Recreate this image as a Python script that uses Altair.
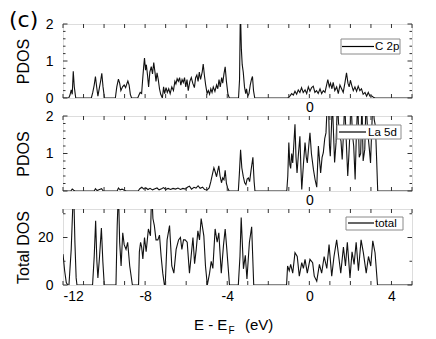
import altair as alt
import pandas as pd

# ---------------- data ----------------
c2p_e = [-12.0, -11.72, -11.66, -11.6, -11.55, -11.5, -11.45, -11.38,
         -10.62, -10.55, -10.48, -10.42, -10.36, -10.3, -10.22, -10.17, -10.11, -10.05, -9.98,
         -9.45, -9.38, -9.3, -9.24, -9.18, -9.1, -9.02, -8.95, -8.88, -8.84, -8.78, -8.72, -8.66,
         -8.36, -8.3, -8.24, -8.17, -8.12, -8.07, -8.03, -7.98, -7.94, -7.88, -7.83, -7.77, -7.7,
         -7.64, -7.58, -7.52, -7.47, -7.42, -7.36, -7.3, -7.24, -7.16, -7.1, -7.05, -6.98, -6.92,
         -6.85, -6.78, -6.7, -6.62, -6.55, -6.5, -6.44, -6.38, -6.32, -6.26, -6.2, -6.14, -6.08,
         -6.02, -5.96, -5.9, -5.82, -5.75, -5.68, -5.6, -5.54, -5.48, -5.42, -5.36, -5.3, -5.22,
         -5.17, -5.11, -5.05, -4.98, -4.92, -4.86, -4.8, -4.74, -4.68, -4.6, -4.52, -4.46, -4.4,
         -4.34, -4.27, -4.22, -4.16, -4.1, -4.04, -3.97, -3.9,
         -3.45, -3.4, -3.36, -3.31, -3.27, -3.22, -3.16, -3.1, -3.06, -3.0, -2.94, -2.88, -2.82,
         -2.77, -2.72, -2.66,
         -1.05, -0.95, -0.86, -0.78, -0.7, -0.62, -0.54, -0.46, -0.38, -0.3, -0.21, -0.13, -0.05,
         0.03, 0.11, 0.19, 0.27, 0.35, 0.43, 0.52, 0.6, 0.68, 0.76, 0.84, 0.9, 0.97, 1.03, 1.1,
         1.16, 1.24, 1.33, 1.41, 1.49, 1.57, 1.65, 1.73, 1.81, 1.88, 1.94, 2.0, 2.06, 2.14, 2.22,
         2.3, 2.38, 2.46, 2.54, 2.62, 2.71, 2.79, 2.87, 2.95, 3.03, 3.12, 3.2, 5.0]
c2p_v = [0, 0, 0.08, 0.22, 0.1, 0.72, 0.3, 0,
         0, 0.15, 0.35, 0.58, 0.3, 0.05, 0.3, 0.45, 0.67, 0.3, 0,
         0, 0.3, 0.51, 0.4, 0.2, 0.3, 0.35, 0.28, 0.4, 0.46, 0.35, 0.1, 0,
         0, 0.08, 0.15, 0.12, 0.5, 0.85, 1.08, 0.75, 0.9, 0.6, 0.3, 0.7, 0.85,
         0.65, 0.96, 0.7, 0.45, 0.68, 0.5, 0.25, 0.1, 0.0, 0.3, 0.12, 0.28, 0.15,
         0.25, 0.12, 0.3, 0.2, 0.45, 0.38, 0.52, 0.45, 0.55, 0.35, 0.5, 0.42, 0.55,
         0.3, 0.5, 0.2, 0.45, 0.55, 0.4, 0.28, 0.55, 0.62, 0.45, 0.7, 0.5, 0.7,
         0.92, 0.6, 0.35, 0.12, 0.2, 0.1, 0.25, 0.15, 0.3, 0.18, 0.35, 0.25, 0.5,
         0.3, 0.55, 0.4, 0.65, 0.84, 0.45, 0.12, 0,
         0, 0.5, 2.4, 1.3, 0.9, 0.7, 0.3, 0.12, 0.25, 0.05, 0.12, 0.35, 0.5,
         0.58, 0.2, 0,
         0, 0.05, 0.12, 0.08, 0.18, 0.1, 0.22, 0.15, 0.28, 0.15, 0.22, 0.12, 0.3,
         0.18, 0.28, 0.32, 0.15, 0.2, 0.12, 0.25, 0.12, 0.2, 0.15, 0.35, 0.5, 0.3, 0.4, 0.25,
         0.42, 0.2, 0.3, 0.12, 0.35, 0.25, 0.15, 0.4, 0.68, 0.4, 0.3, 0.48, 0.35, 0.2, 0.3,
         0.18, 0.32, 0.2, 0.25, 0.1, 0.15, 0.05, 0.15, 0.05, 0.06, 0.02, 0, 0]

la5d_e = [-12.0, -11.62, -11.55, -11.48, -11.42,
          -10.48, -10.42, -10.34, -10.22, -10.12, -10.04,
          -9.36, -9.3, -9.22, -9.12, -9.02, -8.92,
          -8.34, -8.26, -8.16, -8.06, -7.96, -7.86, -7.76, -7.64, -7.52, -7.42, -7.32, -7.2, -7.1,
          -7.0, -6.88, -6.76, -6.64, -6.52, -6.4, -6.28, -6.16, -6.04, -5.94, -5.84, -5.74, -5.62,
          -5.52, -5.42, -5.32, -5.2, -5.1, -4.98, -4.88, -4.8, -4.72, -4.65, -4.58, -4.52, -4.46,
          -4.41, -4.35, -4.28, -4.22, -4.16, -4.1, -4.04, -3.98, -3.91,
          -3.46, -3.41, -3.35, -3.29, -3.22, -3.15, -3.09, -3.03, -2.97, -2.91, -2.84, -2.75, -2.69, -2.65,
          -1.1, -1.05, -1.0, -0.95, -0.91, -0.86, -0.81, -0.75, -0.7, -0.65, -0.6, -0.53, -0.46,
          -0.41, -0.37, -0.29, -0.21, -0.15, -0.1, -0.03, 0.03, 0.1, 0.2, 0.28, 0.36, 0.44, 0.5,
          0.55, 0.62, 0.68, 0.75, 0.81, 0.87, 0.93, 0.98, 1.02, 1.07, 1.12, 1.18, 1.23, 1.3, 1.37,
          1.45, 1.54, 1.6, 1.67, 1.72, 1.8, 1.87, 1.92, 1.98, 2.03, 2.1, 2.16, 2.23, 2.29, 2.36,
          2.43, 2.5, 2.56, 2.62, 2.7, 2.76, 2.84, 2.93, 2.98, 3.03, 3.09, 3.16, 3.22, 3.28, 3.33, 5.0]
la5d_v = [0, 0, 0.05, 0.02, 0,
          0, 0.06, 0.01, 0.04, 0.06, 0,
          0, 0.08, 0.03, 0.05, 0.02, 0,
          0, 0.06, 0.1, 0.05, 0.08, 0.04, 0.07, 0.03, 0.06, 0.08, 0.03, 0.06, 0.09,
          0.04, 0.07, 0.04, 0.07, 0.05, 0.08, 0.04, 0.07, 0.05, 0.1, 0.13, 0.05, 0.1,
          0.08, 0.14, 0.07, 0.1, 0.04, 0.03, 0.08, 0.25, 0.45, 0.62, 0.5, 0.38, 0.55,
          0.67, 0.4, 0.22, 0.35, 0.3, 0.55, 0.2, 0.08, 0,
          0, 0.45, 1.1, 0.62, 0.39, 0.22, 0.17, 0.32, 0.35, 0.25, 0.55, 0.9, 0.25, 0,
          0, 0.4, 1.29, 0.7, 0.6, 1.0, 0.75, 1.3, 1.78, 0.9, 0.48, 1.0, 1.46,
          0.6, 0.04, 0.7, 1.29, 0.9, 0.75, 1.2, 1.55, 1.0, 0.57, 0.3, 0.1, 1.2, 0.8,
          0.48, 0.9, 1.02, 1.4, 1.55, 2.3, 2.4, 1.2, 0.93, 1.6, 2.4, 1.5, 0.76, 1.29, 2.4,
          1.5, 1.34, 0.84, 1.6, 2.4, 1.3, 0.4, 0.9, 1.6, 2.4, 1.5, 1.2, 0.31, 1.5, 2.4,
          0.9, 1.0, 2.4, 0.8, 1.11, 2.4, 1.6, 1.07, 0.75, 1.5, 2.4, 1.9, 1.73, 0.8, 0, 0]

total_e = [-12.0, -11.92, -11.84, -11.77, -11.71, -11.6, -11.52, -11.48, -11.42, -11.36, -11.32,
           -10.56, -10.48, -10.41, -10.35, -10.3, -10.22, -10.13, -10.06, -9.99,
           -9.42, -9.36, -9.3, -9.24, -9.17, -9.09, -9.02, -8.93, -8.85, -8.75, -8.62,
           -8.32, -8.28, -8.22, -8.17, -8.11, -8.03, -7.95, -7.84, -7.74, -7.68, -7.62, -7.55,
           -7.47, -7.38, -7.3, -7.22, -7.14, -7.06, -7.02, -6.93, -6.81, -6.7, -6.6, -6.49,
           -6.37, -6.28, -6.21, -6.13, -6.05, -5.95, -5.84, -5.76, -5.67, -5.59, -5.51, -5.43,
           -5.35, -5.27, -5.14, -5.06, -4.97, -4.86, -4.78, -4.7, -4.59, -4.49, -4.41, -4.29,
           -4.18, -4.1, -4.02, -3.89,
           -3.46, -3.38, -3.32, -3.21, -3.12, -3.04, -2.92, -2.81, -2.71,
           -1.11, -1.06, -0.98, -0.91, -0.81, -0.7, -0.59, -0.49, -0.37, -0.29, -0.21, -0.1,
           0.03, 0.16, 0.24, 0.36, 0.49, 0.6, 0.72, 0.85, 0.96, 1.09, 1.2, 1.33, 1.43, 1.53,
           1.66, 1.76, 1.85, 1.98, 2.08, 2.18, 2.28, 2.39, 2.52, 2.63, 2.77, 2.88, 2.99, 3.09,
           3.2, 3.32, 5.0]
total_v = [13, 6, 1, 0, 0, 15, 34, 40, 18, 3, 0,
           0, 12, 27, 10, 3, 12, 24, 10, 0,
           0, 25, 40, 18, 8, 22, 17, 15, 18, 8, 0,
           0, 14, 18, 16, 11, 20, 14, 23.6, 20.7, 40, 28, 25,
           19, 19, 21, 12, 5, 0, 0, 19, 25, 8, 5, 15,
           19, 20, 15, 19, 19, 18, 5, 12, 20, 9, 15, 22.8,
           19, 28, 20.7, 8, 0, 5, 10, 7, 23.6, 18, 22, 5,
           17, 23.6, 15, 0,
           0, 12, 28.4, 6.8, 12.5, 2.5, 18, 24.5, 0,
           0, 8, 6, 8.7, 5, 13.6, 12, 3.7, 9.4, 7, 10.8, 5,
           10.8, 9.4, 3.7, 1.6, 8.7, 5, 12, 7, 17, 3.7, 12, 19, 12, 5,
           16, 8, 18, 3, 14, 8.7, 18, 6, 19, 13.6, 5, 12, 8, 18.6,
           13.6, 0, 0]

x_ticks = [-12, -11, -10, -9, -8, -7, -6, -5, -4, -3, -2, -1, 0, 1, 2, 3, 4, 5]
x_labels_bottom = [-12, -8, -4, 0, 4]
x_labels_upper = [0]
pdos_major = [0, 1, 2]
pdos_minor = [0.2, 0.4, 0.6, 0.8, 1.2, 1.4, 1.6, 1.8]
total_major = [0, 20]
total_minor = [10, 30]
total_labels = [0, 20]

# ---------------- styling ----------------
W = 349
FONT = "Liberation Sans"
TICK = "#333333"
LINE = "#111111"
FRAME = "#808080"
XDOM = [-12, 5]


def panel(e, v, ymax, h, ytitle, ylabels, ymaj, ymin, xlabels, xpad, leg_label, box, seg, tx, ty):
    xs = alt.Scale(domain=XDOM, nice=False, zero=False)
    ys = alt.Scale(domain=[0, ymax], nice=False, zero=True)
    xaxis = alt.Axis(values=xlabels, ticks=False, domain=False, grid=False, title=None,
                     labelPadding=xpad, labelFontSize=14, labelExpr="'' + datum.value",
                     labelFont=FONT, labelColor="#000")
    yaxis = alt.Axis(values=ylabels, ticks=False, domain=False, grid=False, title=ytitle,
                     labelPadding=10, labelFontSize=14, labelExpr="'' + datum.value",
                     labelFont=FONT, labelColor="#000",
                     titleFont=FONT, titleFontSize=16, titleFontWeight="normal", titleColor="#000",
                     titleX=-35, titleY=h / 2, titleBaseline="alphabetic", titleAngle=270)
    df = pd.DataFrame({"E": e, "D": v})
    line = alt.Chart(df).mark_line(color=LINE, strokeWidth=1.1, clip=True).encode(
        x=alt.X("E:Q", scale=xs, axis=xaxis),
        y=alt.Y("D:Q", scale=ys, axis=yaxis),
    )
    tdf = pd.DataFrame({"E": x_ticks})
    xt_bot = alt.Chart(tdf).mark_rule(color=TICK, strokeWidth=1).encode(
        x=alt.X("E:Q", scale=xs, axis=xaxis), y=alt.value(h), y2=alt.value(h - 4))
    xt_top = alt.Chart(tdf).mark_rule(color=TICK, strokeWidth=1).encode(
        x=alt.X("E:Q", scale=xs, axis=xaxis), y=alt.value(0), y2=alt.value(4))
    layers = [line, xt_bot, xt_top]
    for vals, ln in ((ymaj, 4.5), (ymin, 2.5)):
        ydf = pd.DataFrame({"D": vals})
        layers.append(alt.Chart(ydf).mark_rule(color=TICK, strokeWidth=1).encode(
            y=alt.Y("D:Q", scale=ys, axis=yaxis), x=alt.value(0), x2=alt.value(ln)))
        layers.append(alt.Chart(ydf).mark_rule(color=TICK, strokeWidth=1).encode(
            y=alt.Y("D:Q", scale=ys, axis=yaxis), x=alt.value(W - ln), x2=alt.value(W)))
    ldf = pd.DataFrame({"label": [leg_label]})
    layers.append(alt.Chart(ldf).mark_rect(fill="white", stroke="#8a8a8a", strokeWidth=1).encode(
        x=alt.value(box[0]), x2=alt.value(box[1]), y=alt.value(box[2]), y2=alt.value(box[3])))
    layers.append(alt.Chart(ldf).mark_rule(color="#000", strokeWidth=1.2).encode(
        x=alt.value(seg[0]), x2=alt.value(seg[1]), y=alt.value(seg[2])))
    layers.append(alt.Chart(ldf).mark_text(align="left", baseline="middle", font=FONT,
                                           fontSize=11.5, color="#000").encode(
        text="label:N", x=alt.value(tx), y=alt.value(ty)))
    return layers


top_layers = panel(c2p_e, c2p_v, 2, 74, "PDOS", pdos_major, pdos_major, pdos_minor,
                   x_labels_upper, 2, "C 2p", (278, 337, 15, 30), (279, 311, 22.5), 312, 23)
tag = alt.Chart(pd.DataFrame({"label": ["(c)"]})).mark_text(
    align="left", baseline="top", font="DejaVu Sans", fontSize=22, color="#000").encode(
    text="label:N", x=alt.value(-54), y=alt.value(-14))
top = alt.layer(*top_layers, tag).properties(width=W, height=74)

mid_layers = panel(la5d_e, la5d_v, 2, 75, "PDOS", pdos_major, pdos_major, pdos_minor,
                   x_labels_upper, 2, "La 5d", (274, 338, 9, 23), (276, 303, 16), 305, 16.5)
mid = alt.layer(*mid_layers).properties(width=W, height=75)

bot_layers = panel(total_e, total_v, 32, 76, "Total DOS", total_labels, total_major, total_minor,
                   x_labels_bottom, 4, "total", (283, 340, 8, 21), (285, 311, 14), 312, 14.5)
tdf1 = pd.DataFrame({"label": ["E - E"]})
tdf2 = pd.DataFrame({"label": ["F"]})
tdf3 = pd.DataFrame({"label": ["(eV)"]})
xt1 = alt.Chart(tdf1).mark_text(align="left", baseline="alphabetic", font=FONT, fontSize=15,
                                color="#000").encode(text="label:N", x=alt.value(131), y=alt.value(121))
xt2 = alt.Chart(tdf2).mark_text(align="left", baseline="alphabetic", font=FONT, fontSize=10,
                                color="#000").encode(text="label:N", x=alt.value(165.5), y=alt.value(125))
xt3 = alt.Chart(tdf3).mark_text(align="left", baseline="alphabetic", font=FONT, fontSize=15,
                                color="#000").encode(text="label:N", x=alt.value(182), y=alt.value(121))
bot = alt.layer(*bot_layers, xt1, xt2, xt3).properties(width=W, height=76)

chart = alt.vconcat(top, mid, bot, spacing=18, bounds="flush").properties(
    padding={"left": 0, "top": 0, "right": 0, "bottom": 0}
).configure_view(stroke=FRAME, strokeWidth=1.5).configure(background="white")

chart.save("out.html", embed_options={"renderer": "svg", "actions": False})
